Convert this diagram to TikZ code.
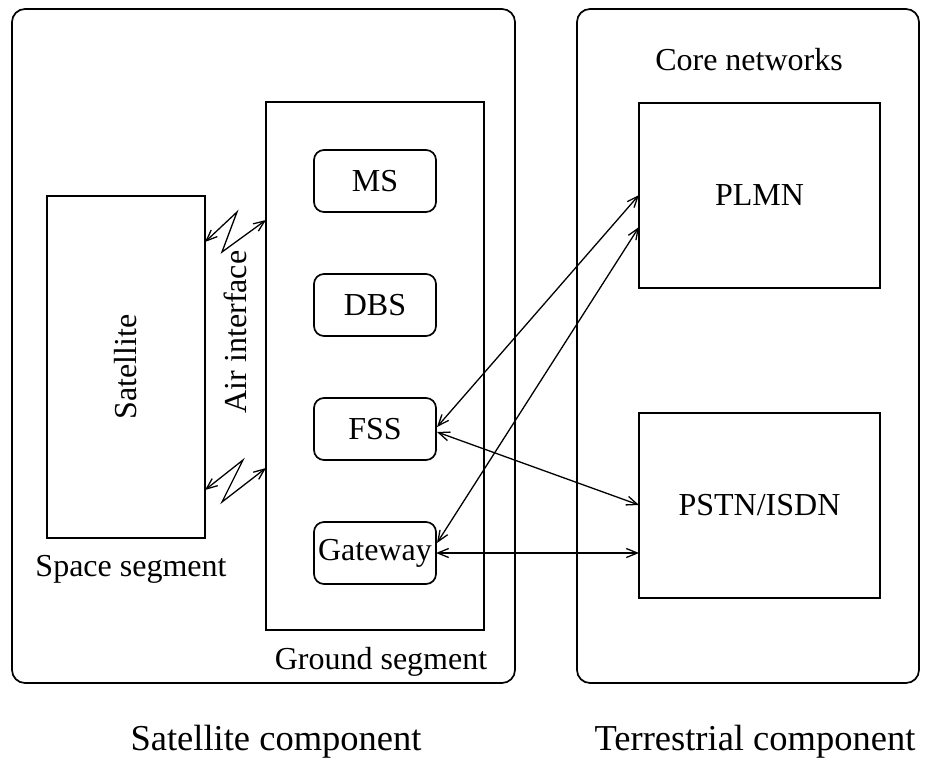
\documentclass[tikz,border=0pt]{standalone}
\usepackage{fontspec}
\setmainfont{Liberation Serif}
\usetikzlibrary{arrows.meta,calc}
\tikzset{
  every node/.style={inner sep=0pt, outer sep=0pt},
  lbl/.style={font=\fontsize{32}{37}\selectfont},
  biglbl/.style={font=\fontsize{36.5}{42}\selectfont},
  frame/.style={draw, line width=1.7pt, rounded corners=13pt},
  plainbox/.style={draw, line width=1.7pt},
  unitbox/.style={draw, line width=1.7pt, rounded corners=10pt,
    minimum width=122pt, minimum height=62pt, font=\fontsize{32}{37}\selectfont},
  netbox/.style={draw, line width=1.7pt, minimum width=241pt, minimum height=185pt,
    font=\fontsize{32}{37}\selectfont},
  link/.style={line width=1.3pt, {Straight Barb[length=11pt,width=9pt]}-{Straight Barb[length=11pt,width=9pt]}}
}
\begin{document}
\begin{tikzpicture}[x=1pt,y=-1pt]
\useasboundingbox (0,0) rectangle (931,761);

% outer component frames
\node[frame, minimum width=503pt, minimum height=674pt] (satcomp) at (263.5,346) {};
\node[frame, minimum width=342pt, minimum height=674pt] (tercomp) at (748,346) {};

% space and ground segments
\node[plainbox, minimum width=158pt, minimum height=342pt] (sat) at (126,367) {};
\node[lbl, rotate=90] (satlabel) at (126,367) {Satellite};
\node[plainbox, minimum width=218pt, minimum height=528pt] (ground) at (375,366) {};

\node[unitbox] (ms) at (375,181) {MS};
\node[unitbox] (dbs) at (375,305) {DBS};
\node[unitbox] (fss) at (375,429) {FSS};
\node[unitbox] (gw) at (375,553) {Gateway};

% core networks
\node[netbox] (plmn) at (759.5,195.5) {PLMN};
\node[netbox] (pstn) at (759.5,505.5) {PSTN/ISDN};

% labels
\node[lbl] (core) at (749,60) {Core networks};
\node[lbl] (space) at (131,569) {Space segment};
\node[lbl] (gseg) at (381,662) {Ground segment};
\node[lbl, rotate=90] (air) at (235,332) {Air interface};
\node[biglbl] (satc) at (276,742) {Satellite component};
\node[biglbl] (terc) at (755,742) {Terrestrial component};

% radio links across the air interface
\coordinate (ua) at (sat.east |- 0,242);
\coordinate (ub) at (237,212);
\coordinate (uc) at (222,252);
\coordinate (ud) at (ground.west |- 0,220);
\draw[link] (ua) -- (ub) -- (uc) -- (ud);

\coordinate (la) at (sat.east |- 0,490);
\coordinate (lb) at (243,460);
\coordinate (lc) at (222,502);
\coordinate (ld) at (ground.west |- 0,468);
\draw[link] (la) -- (lb) -- (lc) -- (ld);

% terrestrial connections
\draw[link] ($(fss.east)+(1,-2)$) -- ($(plmn.west)+(0,-0.5)$);
\draw[link] ($(gw.east)+(1,-10)$) -- ($(plmn.west)+(0,31.5)$);
\draw[link] ($(fss.east)+(1,3)$) -- ($(pstn.west)+(0,-0.5)$);
\draw[link] (gw.east) -- (pstn.west |- gw.east);
\end{tikzpicture}
\end{document}
